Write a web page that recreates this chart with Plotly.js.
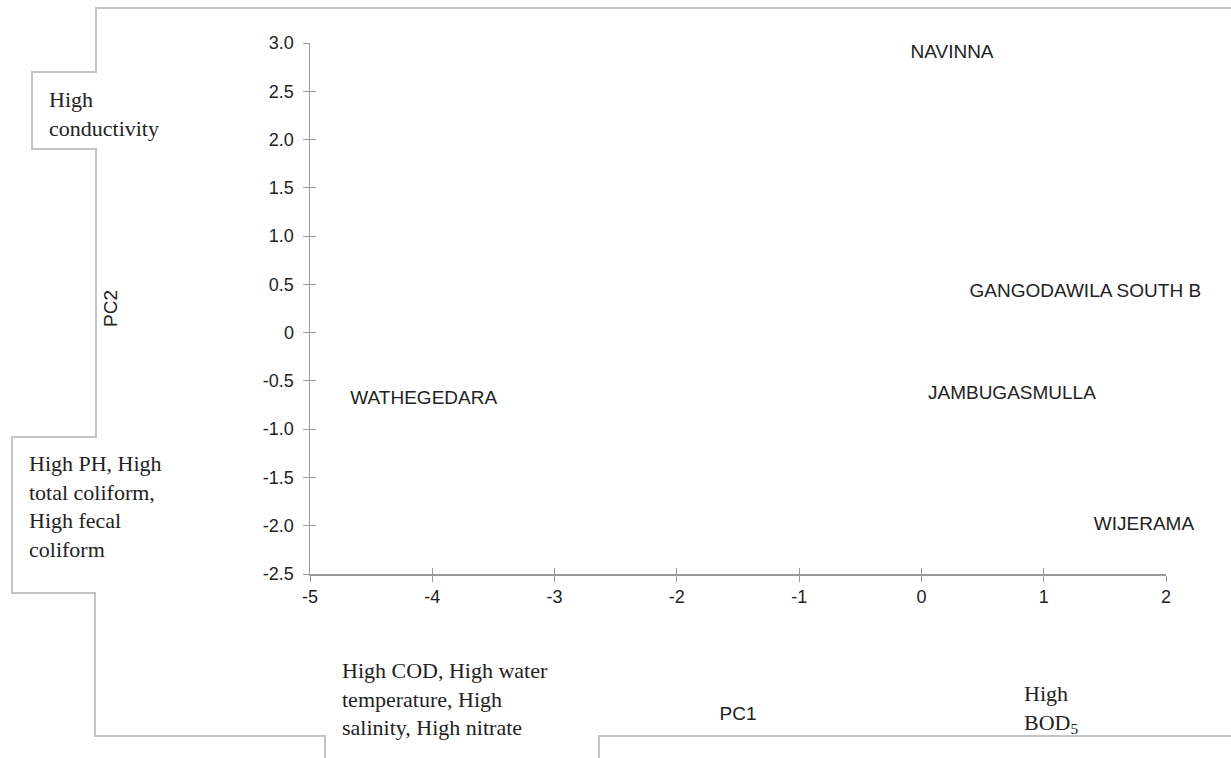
<!DOCTYPE html>
<html><head><meta charset="utf-8">
<script src="https://cdn.plot.ly/plotly-3.0.1.min.js"></script>
<style>html,body{margin:0;padding:0;background:#fff}#chart{width:1231px;height:758px}</style>
</head><body><div id="chart"></div>
<script>
// ---- data ----
const sites = ["NAVINNA", "GANGODAWILA SOUTH B", "JAMBUGASMULLA", "WIJERAMA", "WATHEGEDARA"];
const pc1 = [0.25, 1.34, 0.74, 1.82, -4.07];
const pc2 = [2.89, 0.42, -0.64, -2.00, -0.69];
const xTickVals = [-5, -4, -3, -2, -1, 0, 1, 2];
const xTickText = ["-5", "-4", "-3", "-2", "-1", "0", "1", "2"];
const yTickVals = [3, 2.5, 2, 1.5, 1, 0.5, 0, -0.5, -1, -1.5, -2, -2.5];
const yTickText = ["3.0", "2.5", "2.0", "1.5", "1.0", "0.5", "0", "-0.5", "-1.0", "-1.5", "-2.0", "-2.5"];
const regionNotes = [
  "High<br>conductivity",
  "High PH, High<br>total coliform,<br>High fecal<br>coliform",
  "High COD, High water<br>temperature, High<br>salinity, High nitrate",
  "High<br>BOD<sub>5</sub>"
];

// ---- layout geometry ----
const W = 1231, H = 758;
const M = {l: 310, r: 65, t: 43, b: 184};
const pw = W - M.l - M.r, ph = H - M.t - M.b;
const fx = px => (px - M.l) / pw;
const fy = py => (H - M.b - py) / ph;

const notePos = [[47, 85], [27, 449], [340, 656], [1022, 679]];

const framePts = [[1231,8],[96,8],[96,72],[32,72],[32,149],[96,149],[96,437],[12,437],[12,593],[95,593],[95,736],[325,736],[325,758]];
const framePts2 = [[599,758],[599,736],[1231,736]];
const toPath = pts => pts.map((p,i) => (i ? 'L' : 'M') + fx(p[0]).toFixed(5) + ',' + fy(p[1]).toFixed(5)).join(' ');

const sansFont = 'Liberation Sans, Arial, sans-serif';
const serifFont = 'Liberation Serif, Times New Roman, serif';
const axisCol = '#9a9a9a';
const textCol = '#222';

const traces = [
  {
    type: 'scatter', mode: 'text',
    x: pc1, y: pc2, text: sites,
    textposition: 'middle center',
    textfont: {family: sansFont, size: 19, color: textCol},
    cliponaxis: false, hoverinfo: 'text', showlegend: false
  },
  {
    type: 'scatter', mode: 'markers', x: [-5], y: [-2.5], xaxis: 'x2', yaxis: 'y2',
    marker: {size: 1, opacity: 0}, showlegend: false, hoverinfo: 'skip'
  }
];

const baseAxis = {
  showgrid: false, zeroline: false, showline: true, linecolor: axisCol, linewidth: 1.5,
  ticks: 'outside', ticklen: 6, tickwidth: 1, tickcolor: axisCol,
  tickmode: 'array', fixedrange: true,
  tickfont: {family: sansFont, size: 18, color: textCol}
};

const layout = {
  width: W, height: H,
  margin: M,
  paper_bgcolor: '#fff', plot_bgcolor: '#fff',
  showlegend: false,
  xaxis: Object.assign({}, baseAxis, {
    range: [-5, 2], tickvals: xTickVals, ticktext: xTickText, ticklabelstandoff: 0,
    title: {text: 'PC1', font: {family: sansFont, size: 19, color: textCol}, standoff: 100}
  }),
  yaxis: Object.assign({}, baseAxis, {
    range: [-2.5, 3], tickvals: yTickVals, ticktext: yTickText, ticklabelstandoff: 5,
    title: {text: 'PC2', font: {family: sansFont, size: 19, color: textCol}, standoff: 140}
  }),
  xaxis2: {
    overlaying: 'x', anchor: 'y2', side: 'bottom', range: [-5, 2],
    tickmode: 'array', tickvals: xTickVals, showticklabels: false,
    ticks: 'inside', ticklen: 6, tickcolor: axisCol, tickwidth: 1,
    showgrid: false, zeroline: false, showline: false, fixedrange: true
  },
  yaxis2: {
    overlaying: 'y', anchor: 'x2', side: 'left', range: [-2.5, 3],
    tickmode: 'array', tickvals: yTickVals, showticklabels: false,
    ticks: 'inside', ticklen: 6, tickcolor: axisCol, tickwidth: 1,
    showgrid: false, zeroline: false, showline: false, fixedrange: true
  },
  shapes: [
    {type: 'path', xref: 'paper', yref: 'paper', path: toPath(framePts), line: {color: '#c4c4c4', width: 2}},
    {type: 'path', xref: 'paper', yref: 'paper', path: toPath(framePts2), line: {color: '#c4c4c4', width: 2}}
  ],
  annotations: regionNotes.map((t, i) => ({
    text: t, xref: 'paper', yref: 'paper',
    x: fx(notePos[i][0]), y: fy(notePos[i][1]),
    xanchor: 'left', yanchor: 'top', align: 'left', showarrow: false,
    font: {family: serifFont, size: 22, color: textCol}
  }))
};

Plotly.newPlot('chart', traces, layout, {displayModeBar: false, staticPlot: true});
</script>
</body></html>
